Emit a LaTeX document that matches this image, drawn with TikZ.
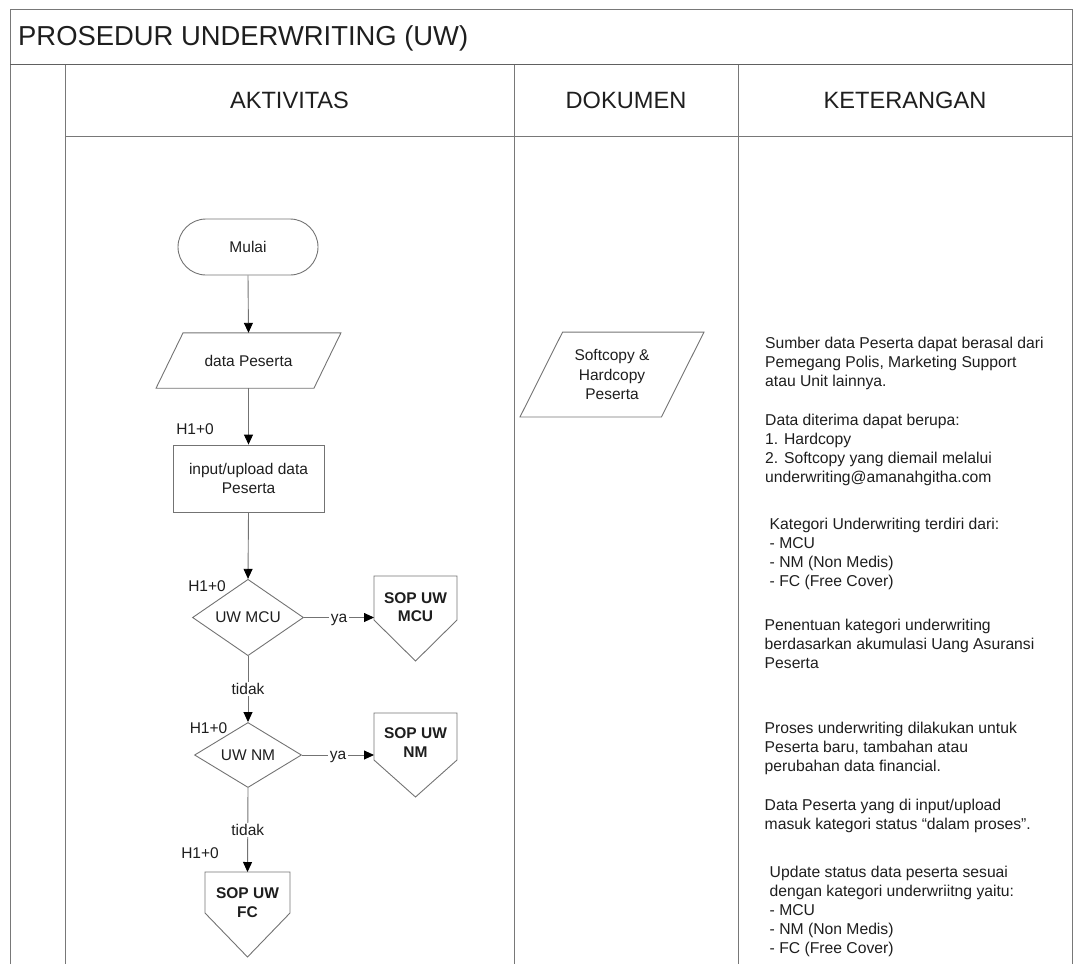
\documentclass[tikz,border=0pt]{standalone}
\usepackage{fontspec}
\setmainfont{Liberation Sans}
\usetikzlibrary{arrows.meta,shapes.geometric}

\definecolor{ink}{RGB}{30,30,30}
\definecolor{rule}{RGB}{120,120,120}
\definecolor{shapeline}{RGB}{115,115,115}

\begin{document}
\begin{tikzpicture}[x=1pt,y=-1pt,
  frame/.style={draw=rule,line width=1pt},
  flow/.style={font=\fontsize{15.5}{19.5}\selectfont,text=ink,align=center,inner sep=0pt},
  soptext/.style={font=\bfseries\fontsize{15.5}{18.5}\selectfont,text=ink,align=center,inner sep=0pt},
  shapebox/.style={draw=shapeline,line width=0.9pt},
  hidden/.style={inner sep=0pt,outer sep=0pt},
  decision/.style={shape=diamond,draw=shapeline,line width=0.9pt,inner sep=0pt,
    font=\fontsize{15.5}{19.5}\selectfont,text=ink},
  arr/.style={draw=shapeline,line width=0.9pt,-{Triangle[length=10pt,width=9pt,color=black]}},
  lbl/.style={fill=white,inner sep=1.5pt,font=\fontsize{15.5}{19.5}\selectfont,text=ink},
  tag/.style={font=\fontsize{15.5}{19.5}\selectfont,text=ink,inner sep=0pt},
  head/.style={font=\fontsize{23.6}{28}\selectfont,text=ink,inner sep=0pt,anchor=base},
  note/.style={font=\fontsize{15.7}{19}\selectfont,text=ink,align=left,inner sep=0pt,anchor=north west}
]
\useasboundingbox (0,0) rectangle (1075,964);

% table frame
\draw[frame] (10,964) -- (10,9) -- (1072,9) -- (1072,964);
\draw[draw=rule!80!black,line width=1.8pt] (10,64.5) -- (1072,64.5);
\draw[frame] (65,64.5) -- (65,964);
\draw[frame] (514,64.5) -- (514,964);
\draw[frame] (738,64.5) -- (738,964);
\draw[frame] (65,136) -- (1072,136);

% titles
\node[font=\fontsize{27.4}{32}\selectfont,text=ink,inner sep=0pt,anchor=base west] (title) at (18,45.5) {PROSEDUR UNDERWRITING (UW)};
\node[head] (hAkt) at (289.5,108.5) {AKTIVITAS};
\node[head] (hDok) at (626,108.5) {DOKUMEN};
\node[head] (hKet) at (905,108.5) {KETERANGAN};

% flow: start
\node[flow,draw=shapeline,line width=0.9pt,rounded corners=28pt,minimum width=140pt,minimum height=56pt] (start) at (248,247) {Mulai};

% flow: data input (parallelogram)
\node[flow,minimum width=157.5pt,minimum height=55pt] (data) at (248.5,360.5) {data Peserta};
\draw[shapebox] ([xshift=13.5pt]data.north west) -- ([xshift=13.5pt]data.north east)
  -- ([xshift=-13.5pt]data.south east) -- ([xshift=-13.5pt]data.south west) -- cycle;

% flow: process
\node[flow,draw=shapeline,line width=0.9pt,minimum width=151pt,minimum height=67pt] (inp) at (248.5,478.5) {input/upload data\\Peserta};

% flow: decisions
\node[decision,minimum width=111pt,minimum height=59pt] (mcu) at (248,617.5) {UW MCU};
\node[decision,minimum width=107pt,minimum height=51pt] (nm) at (248,755) {UW NM};

% off-page connectors
\node[hidden,minimum width=83pt,minimum height=44pt] (sopM) at (415.5,598) {};
\draw[shapebox] (sopM.south west) -- (sopM.north west) -- (sopM.north east) -- (sopM.south east) -- ([yshift=-41pt]sopM.south) -- cycle;
\node[soptext] (sopMt) at ([yshift=-9pt]sopM.center) {SOP UW\\MCU};

\node[hidden,minimum width=83pt,minimum height=47pt] (sopN) at (415.5,736.5) {};
\draw[shapebox] (sopN.south west) -- (sopN.north west) -- (sopN.north east) -- (sopN.south east) -- ([yshift=-37pt]sopN.south) -- cycle;
\node[soptext] (sopNt) at ([yshift=-6pt]sopN.center) {SOP UW\\NM};

\node[hidden,minimum width=85pt,minimum height=41pt] (sopF) at (247.5,892.5) {};
\draw[shapebox] (sopF.south west) -- (sopF.north west) -- (sopF.north east) -- (sopF.south east) -- ([yshift=-44pt]sopF.south) -- cycle;
\node[soptext] (sopFt) at ([yshift=-10pt]sopF.center) {SOP UW\\FC};

% connectors
\draw[arr] (start.south) -- (data.north);
\draw[arr] (data.south) -- (inp.north);
\draw[arr] (inp.south) -- (mcu.north);
\draw[arr] (mcu.east) -- node[lbl,yshift=-2pt] (yaM) {ya} (mcu.east -| sopM.west);
\draw[arr] (mcu.south) -- node[lbl] (tdM) {tidak} (nm.north);
\draw[arr] (nm.east) -- node[lbl,yshift=-2pt] (yaN) {ya} (nm.east -| sopN.west);
\draw[arr] (nm.south) -- node[lbl] (tdN) {tidak} (sopF.north);

% time tags
\node[tag] (t1) at (195,429) {H1+0};
\node[tag] (t2) at (207,586) {H1+0};
\node[tag] (t3) at (208.5,728.5) {H1+0};
\node[tag] (t4) at (200,853.5) {H1+0};

% document column
\node[flow,minimum width=141pt,minimum height=84.5pt] (doc) at (612,374.5) {Softcopy \&\\Hardcopy\\Peserta};
\draw[shapebox] ([xshift=21.3pt]doc.north west) -- ([xshift=21.3pt]doc.north east)
  -- ([xshift=-21.3pt]doc.south east) -- ([xshift=-21.3pt]doc.south west) -- cycle;

% notes column
\node[note] (n1) at (765,337) {Sumber data Peserta dapat berasal dari\\Pemegang Polis, Marketing Support\\atau Unit lainnya.};
\node[note] (n2) at (765,413.5) {Data diterima dapat berupa:\\1. Hardcopy\\2. Softcopy yang diemail melalui\\underwriting@amanahgitha.com};
\node[note] (n3) at (769.5,518) {Kategori Underwriting terdiri dari:\\- MCU\\- NM (Non Medis)\\- FC (Free Cover)};
\node[note] (n4) at (764.5,619) {Penentuan kategori underwriting\\berdasarkan akumulasi Uang Asuransi\\Peserta};
\node[note] (n5) at (764.5,722) {Proses underwriting dilakukan untuk\\Peserta baru, tambahan atau\\perubahan data financial.};
\node[note] (n6) at (764.5,799) {Data Peserta yang di input/upload\\masuk kategori status “dalam proses”.};
\node[note] (n7) at (769.5,866) {Update status data peserta sesuai\\dengan kategori underwriitng yaitu:\\- MCU\\- NM (Non Medis)\\- FC (Free Cover)};
\end{tikzpicture}
\end{document}
